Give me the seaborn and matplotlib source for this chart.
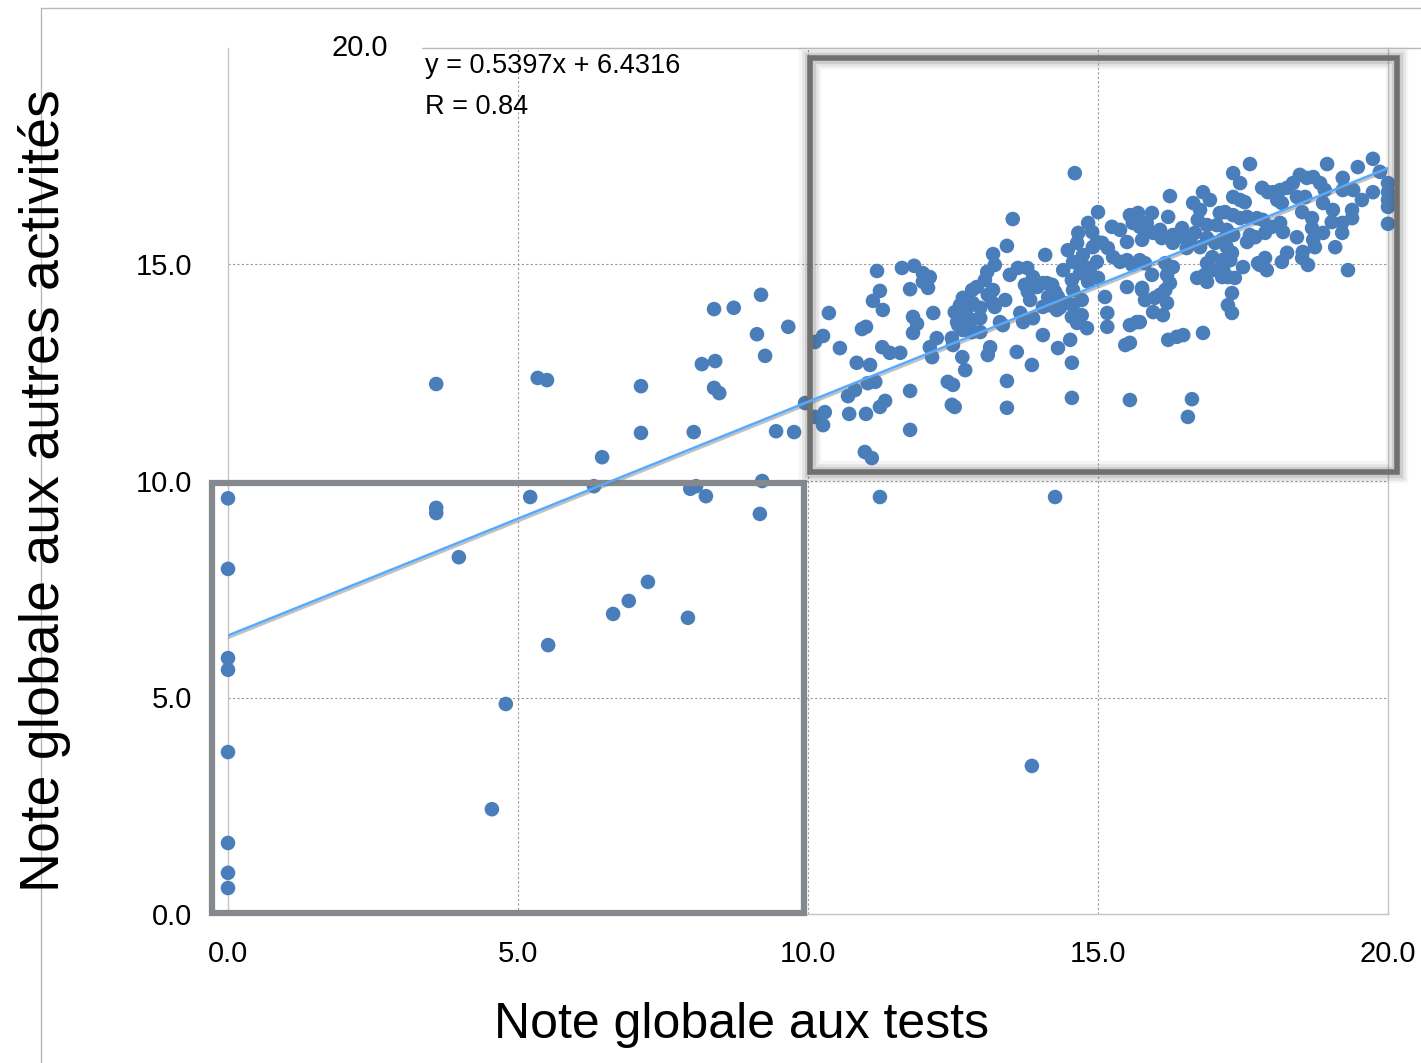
import pandas as pd
import matplotlib
matplotlib.use("Agg")
import matplotlib.pyplot as plt
import matplotlib.patheffects as pe
from matplotlib.patches import Rectangle
from matplotlib.lines import Line2D
import seaborn as sns

# (note aux tests, note aux autres activités)
zero_column = [(0, 9.60), (0, 7.97), (0, 5.91), (0, 5.64), (0, 3.74), (0, 1.64), (0, 0.95), (0, 0.60)]

sparse_points = [
    (3.59, 12.24), (3.59, 9.38), (3.59, 9.26), (3.98, 8.24), (4.55, 2.42), (4.79, 4.85), (5.21, 9.63),
    (5.34, 12.38), (5.50, 12.33), (5.52, 6.21), (6.31, 9.88), (6.45, 10.55), (6.64, 6.93), (6.91, 7.23),
    (7.12, 12.19), (7.12, 11.11), (7.24, 7.67), (7.93, 6.84), (7.97, 9.82), (8.03, 11.13), (8.07, 9.88),
    (8.17, 12.70), (8.24, 9.65), (8.38, 13.97), (8.38, 12.15), (8.40, 12.77), (8.47, 12.03), (8.72, 14.00),
    (9.12, 13.39), (9.17, 9.24), (9.19, 14.30), (9.21, 10.00), (9.26, 12.89), (9.45, 11.15), (9.66, 13.56),
    (9.76, 11.13), (9.95, 11.80), (11.24, 9.63), (14.26, 9.63), (13.86, 3.42), (14.60, 17.11),
    (16.62, 11.89), (16.55, 11.48),
]

cluster_left = [
    (11.19, 14.85), (11.62, 14.92), (11.83, 14.97), (11.98, 14.80), (12.10, 14.71), (11.98, 14.60),
    (12.07, 14.46), (11.24, 14.39), (11.12, 14.16), (11.29, 13.95), (11.76, 14.43), (10.36, 13.88),
    (10.12, 13.21), (10.26, 13.35), (10.55, 13.07), (10.93, 13.51), (11.00, 13.56), (10.84, 12.73),
    (11.07, 12.68), (11.28, 13.09), (11.41, 12.96), (11.59, 12.96), (11.81, 13.79), (11.88, 13.63),
    (11.81, 13.42), (12.16, 13.88), (12.22, 13.30), (12.10, 13.09), (12.14, 12.86), (12.48, 13.30),
    (12.53, 13.90), (12.57, 13.67), (12.66, 13.49), (12.66, 12.86), (10.12, 11.48), (10.29, 11.59),
    (10.26, 11.29), (10.71, 11.55), (11.00, 11.55), (10.69, 11.96), (10.81, 12.10), (11.03, 12.26),
    (11.16, 12.29), (11.24, 11.71), (11.33, 11.85), (11.76, 12.08), (11.76, 11.18), (10.98, 10.67),
    (11.10, 10.53), (12.41, 12.29), (12.50, 12.22), (12.48, 11.76), (12.53, 11.71), (12.50, 13.14),
]

cluster_middle = [
    (13.53, 16.05), (13.43, 15.43), (13.19, 15.24), (13.22, 14.99), (13.09, 14.83), (13.05, 14.64),
    (12.91, 14.48), (12.83, 14.41), (12.67, 14.23), (12.62, 14.06), (12.67, 13.79), (12.76, 14.02),
    (12.84, 14.11), (12.97, 14.00), (12.97, 13.76), (12.83, 13.72), (12.59, 13.60), (12.71, 13.49),
    (12.83, 13.44), (12.97, 13.44), (13.10, 14.30), (13.19, 14.41), (13.17, 14.13), (13.22, 14.02),
    (13.40, 14.18), (13.31, 13.67), (13.36, 13.60), (13.14, 13.09), (13.10, 12.91), (12.71, 12.56),
    (13.43, 12.31), (13.43, 11.69), (13.60, 12.98), (13.86, 12.68), (13.48, 14.76), (13.62, 14.92),
    (13.78, 14.92), (13.88, 14.71), (13.74, 14.53), (13.79, 14.37), (13.83, 14.18), (13.95, 14.48),
    (14.05, 14.57), (14.21, 14.53), (14.26, 14.37), (14.14, 14.25), (14.17, 14.06), (14.31, 14.25),
    (13.66, 13.88), (13.71, 13.67), (13.88, 13.76), (14.09, 15.22), (14.05, 13.37), (14.31, 13.07),
    (14.34, 14.00), (14.47, 14.11), (14.57, 14.06), (14.55, 13.79), (14.64, 13.65), (14.72, 13.83),
    (14.81, 13.53), (14.52, 13.26), (14.55, 12.73), (14.55, 11.92), (14.40, 14.87), (14.48, 15.33),
    (14.57, 15.06), (14.66, 15.73), (14.64, 15.50), (14.55, 14.64), (14.69, 14.80), (14.78, 14.94),
    (14.74, 15.22), (14.86, 14.87), (14.98, 15.06), (15.00, 14.69), (14.83, 14.60), (14.83, 15.96),
    (14.90, 15.75), (15.00, 16.21), (14.98, 15.52), (15.07, 15.50), (15.17, 15.38), (15.26, 15.17),
    (15.38, 15.06), (15.50, 15.10), (15.59, 14.99), (15.72, 15.06), (15.12, 14.25), (15.16, 13.88),
    (15.16, 13.56), (15.50, 14.48), (15.76, 14.41), (15.81, 14.18), (15.55, 13.60), (15.67, 13.67),
    (15.47, 13.14), (15.55, 13.19), (15.55, 11.87), (15.24, 15.87), (15.38, 15.80), (15.55, 16.14),
    (15.69, 16.19), (15.60, 15.96), (15.84, 15.96), (15.50, 15.52), (14.29, 13.95), (14.05, 14.02),
    (14.91, 15.40), (14.57, 14.41), (14.72, 14.18), (14.12, 14.57),
]

cluster_right = [
    (17.62, 17.32), (17.33, 17.11), (17.45, 16.88), (18.95, 17.32), (19.48, 17.25), (19.74, 17.44),
    (19.86, 17.14), (20.00, 16.88), (20.00, 16.67), (20.00, 16.49), (20.00, 16.33), (20.00, 15.94),
    (19.74, 16.67), (19.55, 16.49), (19.38, 16.26), (19.38, 16.07), (19.21, 15.96), (19.21, 15.73),
    (19.09, 15.40), (19.22, 17.00), (19.40, 16.72), (19.22, 16.72), (18.48, 17.07), (18.60, 17.00),
    (18.71, 17.02), (18.83, 16.88), (18.91, 16.72), (18.36, 16.88), (18.26, 16.77), (18.14, 16.72),
    (18.02, 16.67), (17.83, 16.77), (17.93, 16.67), (18.09, 16.49), (18.17, 16.42), (18.43, 16.56),
    (18.57, 16.56), (18.52, 16.21), (18.69, 16.07), (18.69, 15.84), (18.88, 16.42), (19.05, 16.26),
    (18.88, 15.73), (19.03, 15.98), (18.71, 15.57), (18.74, 15.40), (18.43, 15.63), (18.53, 15.29),
    (18.52, 15.15), (18.62, 14.99), (18.26, 15.27), (18.17, 15.06), (17.88, 15.15), (17.79, 14.99),
    (17.91, 14.87), (19.31, 14.87), (18.14, 15.96), (18.19, 15.75), (18.00, 15.87), (17.84, 16.03),
    (17.74, 16.07), (17.57, 16.10), (17.45, 16.07), (17.33, 16.14), (17.19, 16.21), (17.10, 16.19),
    (17.33, 16.56), (17.45, 16.49), (17.53, 16.44), (16.81, 16.67), (16.93, 16.49), (16.64, 16.42),
    (16.76, 16.26), (16.24, 16.58), (15.93, 16.19), (16.21, 16.10), (16.72, 16.03), (16.88, 15.91),
    (17.05, 15.91), (17.22, 15.80), (17.33, 15.68), (17.62, 15.68), (17.57, 15.52), (17.71, 15.63),
    (17.88, 15.73), (15.84, 15.84), (15.95, 15.73), (16.07, 15.80), (16.10, 15.61), (16.29, 15.68),
    (16.45, 15.84), (16.47, 15.63), (16.29, 15.50), (16.59, 15.61), (16.67, 15.73), (16.53, 15.38),
    (16.76, 15.40), (16.88, 15.61), (17.02, 15.50), (17.14, 15.57), (17.22, 15.40), (17.31, 15.27),
    (17.28, 15.10), (17.14, 15.10), (16.97, 15.17), (16.88, 15.03), (16.97, 14.87), (17.16, 14.87),
    (17.24, 14.71), (17.14, 14.71), (17.36, 14.69), (17.50, 14.94), (17.76, 15.03), (16.71, 14.69),
    (16.88, 14.60), (16.84, 14.76), (17.31, 14.34), (17.24, 14.06), (17.31, 13.88), (16.81, 13.42),
    (16.47, 13.37), (16.36, 13.33), (16.21, 13.26), (15.72, 15.87), (15.76, 15.57), (15.72, 15.10),
    (15.81, 15.03), (15.93, 14.76), (16.16, 15.03), (16.29, 14.94), (16.19, 14.76), (16.24, 14.57),
    (16.16, 14.41), (16.07, 14.30), (15.98, 14.23), (15.76, 14.46), (16.19, 14.11), (15.95, 13.90),
    (16.12, 13.83), (15.72, 13.67),
]

# trend line shown on the chart
slope = 0.5397
intercept = 6.4316
r_value = 0.84

tick_values = [0, 5, 10, 15, 20]
x_tick_labels = ["0.0", "5.0", "10.0", "15.0", "20.0"]
y_tick_labels = ["0.0", "5.0", "10.0", "15.0", ""]

all_points = zero_column + sparse_points + cluster_left + cluster_middle + cluster_right
df = pd.DataFrame(all_points, columns=["tests", "activites"])

sns.set_style("white")
plt.rcParams["font.family"] = ["Liberation Sans", "DejaVu Sans"]
plt.rcParams["text.color"] = "black"

fig = plt.figure(figsize=(14.21, 10.63), dpi=100)
ax = fig.add_axes([228 / 1421, 1 - 914 / 1063, 1160 / 1421, 866 / 1063])

# dotted grid
for v in [5, 10, 15]:
    ax.axvline(v, color="#9a9a9a", linestyle=(0, (2, 2)), linewidth=0.8, zorder=1)
    ax.axhline(v, color="#9a9a9a", linestyle=(0, (2, 2)), linewidth=0.8, zorder=1)

sns.scatterplot(data=df, x="tests", y="activites", color="#4a7ebb", s=110,
                edgecolor="none", linewidth=0, ax=ax, clip_on=False, zorder=3)

# trend line
trend = pd.DataFrame({"x": [0, 20]})
trend["y"] = slope * trend["x"] + intercept
ax.plot(trend["x"], trend["y"], color="#55aaff", linewidth=1.8, zorder=6,
        path_effects=[pe.SimpleLineShadow(offset=(0.6, -1.6), shadow_color="#777777", alpha=0.45),
                      pe.Normal()])

ax.text(3.40, 19.58, f"y = {slope}x + {intercept}", fontsize=19.5, ha="left", va="center")
ax.text(3.40, 18.64, f"R = {r_value}", fontsize=19.5, ha="left", va="center")
ax.text(2.76, 20.0, "20.0", fontsize=21, ha="right", va="center")

# highlighted boxes
for lw, a in [(16, 0.06), (12, 0.10), (8, 0.16)]:
    ax.add_patch(Rectangle((10.03, 10.21), 10.12, 9.56, fill=False, edgecolor="#555555",
                           linewidth=lw, alpha=a, clip_on=False, zorder=4))
ax.add_patch(Rectangle((10.03, 10.21), 10.12, 9.56, fill=False, edgecolor="#707070",
                       linewidth=4, clip_on=False, zorder=4))
ax.add_patch(Rectangle((-0.28, 0.02), 10.21, 9.93, fill=False, edgecolor="#85888c",
                       linewidth=4.5, clip_on=False, zorder=4))

ax.set_xlim(0, 20)
ax.set_ylim(0, 20)
ax.set_xticks(tick_values, labels=x_tick_labels)
ax.set_yticks(tick_values, labels=y_tick_labels)
ax.tick_params(axis="both", length=0, labelsize=21, colors="black")
ax.tick_params(axis="x", pad=19)
ax.tick_params(axis="y", pad=26)
ax.set_xlabel("")
ax.set_ylabel("")

for side in ["left", "right", "bottom"]:
    ax.spines[side].set_color("#c4c4c4")
    ax.spines[side].set_linewidth(1)
ax.spines["top"].set_visible(False)

# frame lines around the chart area
fig.add_artist(Line2D([422 / 1421, 1], [1 - 48 / 1063, 1 - 48 / 1063], color="#b8b8b8", linewidth=1))
fig.add_artist(Line2D([41 / 1421, 1], [1 - 8 / 1063, 1 - 8 / 1063], color="#b8b8b8", linewidth=1))
fig.add_artist(Line2D([41 / 1421, 41 / 1421], [0, 1 - 8 / 1063], color="#b8b8b8", linewidth=1))

fig.text(741 / 1421, 1 - 1025 / 1063, "Note globale aux tests", fontsize=36,
         ha="center", va="center")
fig.text(45 / 1421, 1 - 491 / 1063, "Note globale aux autres activités", fontsize=40,
         rotation=90, ha="center", va="center")

fig.savefig("out.png", dpi=100)
